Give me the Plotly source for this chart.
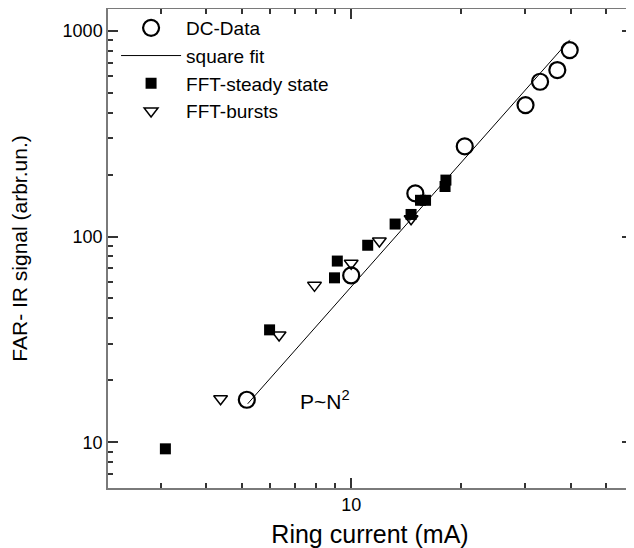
import math
import plotly.graph_objects as go

# ---- data ----
dc_x = [5.17, 10.0, 15.0, 20.5, 30.1, 33.0, 36.8, 39.8]
dc_y = [16.1, 64.7, 162, 274, 435, 565, 644, 805]

fit_x = [5.2, 39.8]
fit_y = [15.4, 903]

steady_x = [3.09, 5.97, 9.0, 9.16, 11.1, 13.2, 14.6, 15.5, 16.0, 18.1, 18.2]
steady_y = [9.3, 35.2, 63, 76, 90.7, 115, 128, 150, 150, 175, 188]

bursts_x = [4.38, 6.34, 7.93, 10.0, 11.95, 14.6]
bursts_y = [16.3, 33.2, 57.9, 74.1, 95.1, 122]

x_major = [10]
x_major_text = ["10"]
y_major = [10, 100, 1000]
y_major_text = ["10", "100", "1000"]

FONT = "Liberation Sans, Arial, Helvetica, sans-serif"

fig = go.Figure()
fig.add_trace(go.Scatter(x=dc_x, y=dc_y, mode="markers", name="DC-Data",
                         marker=dict(symbol="circle-open", size=16, color="black",
                                     line=dict(width=2.2, color="black"))))
fig.add_trace(go.Scatter(x=fit_x, y=fit_y, mode="lines", name="square fit",
                         line=dict(color="black", width=1)))
fig.add_trace(go.Scatter(x=steady_x, y=steady_y, mode="markers", name="FFT-steady state",
                         marker=dict(symbol="square", size=11, color="black")))
fig.add_trace(go.Scatter(x=bursts_x, y=bursts_y, mode="markers", name="FFT-bursts",
                         marker=dict(symbol="triangle-down-open", size=12, color="black",
                                     line=dict(width=1.5, color="black"))))

x_minor = [m * 10 ** e for e in range(0, 2) for m in range(2, 10)]
y_minor = [m * 10 ** e for e in range(0, 4) for m in range(2, 10)]

axis_common = dict(
    type="log", showgrid=False, zeroline=False, showline=True, linecolor="#7a7a7a",
    linewidth=1.5, mirror="allticks", ticks="inside", ticklen=10, tickwidth=1.5,
    tickcolor="#333", tickfont=dict(family=FONT, size=18, color="black"),
    automargin=False,
)

fig.update_xaxes(**axis_common, range=[math.log10(2.15), math.log10(59)],
                 tickmode="array", tickvals=x_major, ticktext=x_major_text,
                 minor=dict(tickmode="array", tickvals=x_minor, ticks="inside",
                            ticklen=5, tickwidth=1.5, tickcolor="#333", showgrid=False),
                 title=dict(text="Ring current (mA)", font=dict(family=FONT, size=25, color="black"),
                            standoff=11))
fig.update_yaxes(**axis_common, range=[math.log10(6), math.log10(1275)],
                 tickmode="array", tickvals=y_major, ticktext=y_major_text,
                 minor=dict(tickmode="array", tickvals=y_minor, ticks="inside",
                            ticklen=5, tickwidth=1.5, tickcolor="#333", showgrid=False),
                 title=dict(text="FAR- IR signal (arbr.un.)", font=dict(family=FONT, size=21, color="black"),
                            standoff=30))

fig.add_annotation(x=math.log10(7.13), y=math.log10(16.1), xref="x", yref="y",
                   text="P~N<sup>2</sup>", showarrow=False, xanchor="left", yanchor="middle",
                   font=dict(family=FONT, size=21, color="black"))

# the page body adds an 8px margin, so the figure is sized to fit inside the window
fig.update_layout(
    width=626, height=540,
    margin=dict(l=100, r=2, t=1, b=60),
    paper_bgcolor="white", plot_bgcolor="white",
    showlegend=True,
    legend=dict(x=0.0154, y=1.0, xanchor="left", yanchor="top", bgcolor="rgba(0,0,0,0)",
                font=dict(family=FONT, size=19, color="black"), itemwidth=60,
                tracegroupgap=0),
)

fig.write_html("out.html")
